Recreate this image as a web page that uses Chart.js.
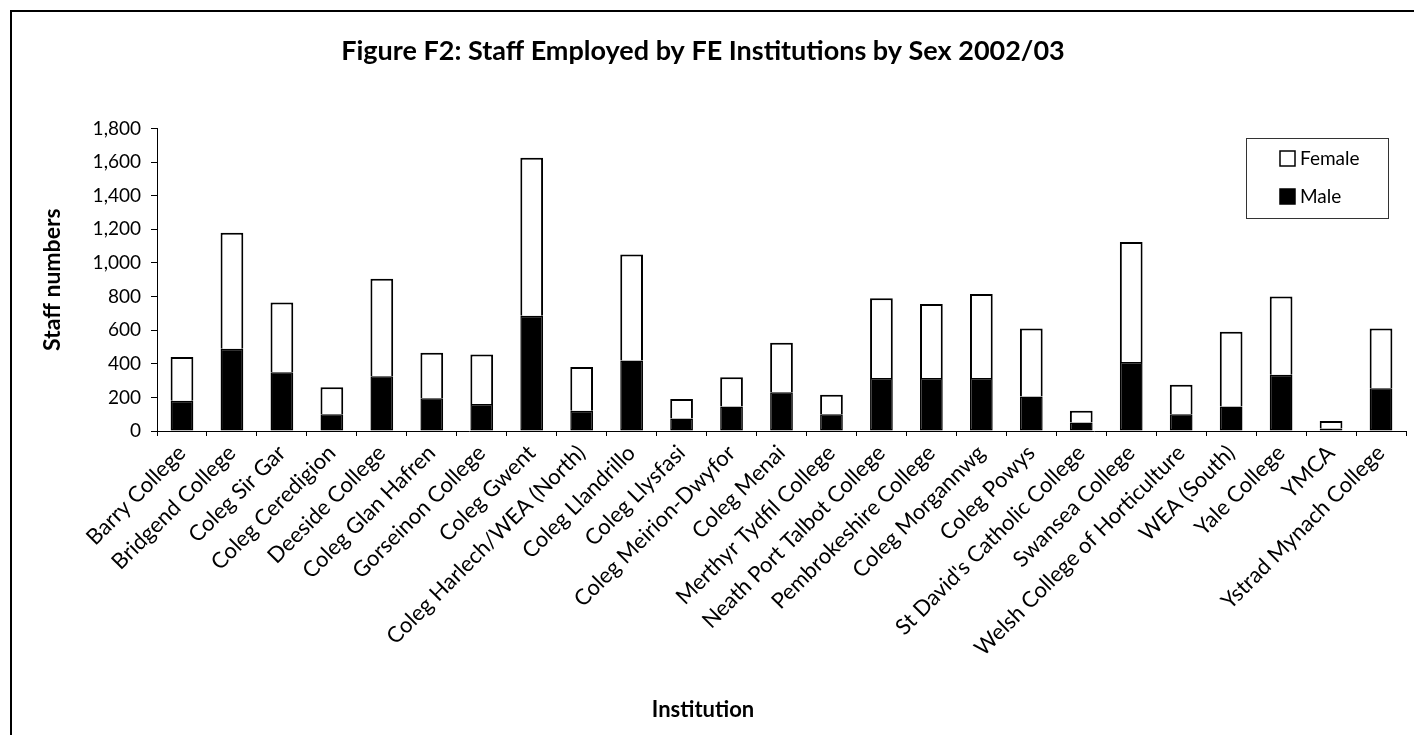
<!DOCTYPE html>
<html>
<head>
<meta charset="utf-8">
<title>Figure F2</title>
<script src="https://cdn.jsdelivr.net/npm/chart.js@4/dist/chart.umd.min.js"></script>
<style>
  html, body { margin: 0; padding: 0; background: #fff; overflow: hidden; }
  canvas { display: block; }
</style>
</head>
<body>
<canvas id="myChart" width="1414" height="735"></canvas>
<script>
// Figure F2 - staff by institution and sex

const institutions = [
  "Barry College", "Bridgend College", "Coleg Sir Gar", "Coleg Ceredigion",
  "Deeside College", "Coleg Glan Hafren", "Gorseinon College", "Coleg Gwent",
  "Coleg Harlech/WEA (North)", "Coleg Llandrillo", "Coleg Llysfasi",
  "Coleg Meirion-Dwyfor", "Coleg Menai", "Merthyr Tydfil College",
  "Neath Port Talbot College", "Pembrokeshire College", "Coleg Morgannwg",
  "Coleg Powys", "St David's Catholic College", "Swansea College",
  "Welsh College of Horticulture", "WEA (South)", "Yale College", "YMCA",
  "Ystrad Mynach College"
];

const maleStaff = [180, 490, 350, 100, 325, 195, 160, 685, 120, 420, 75, 145, 230,
  100, 315, 315, 315, 205, 50, 410, 100, 145, 335, 15, 255];

const femaleStaff = [260, 690, 415, 160, 580, 270, 295, 940, 260, 630, 115, 175, 295,
  115, 475, 440, 500, 405, 70, 715, 175, 445, 465, 45, 355];

const yTicks = [0, 200, 400, 600, 800, 1000, 1200, 1400, 1600, 1800];

const FONT = "Lato, 'Open Sans', sans-serif";

// frame round the whole chart (only left and top are visible)
const framePlugin = {
  id: "frame",
  afterDraw(chart) {
    const ctx = chart.ctx;
    ctx.save();
    ctx.strokeStyle = "#000";
    ctx.lineWidth = 2;
    ctx.beginPath();
    ctx.moveTo(11, chart.height);
    ctx.lineTo(11, 11);
    ctx.lineTo(chart.width, 11);
    ctx.stroke();
    ctx.restore();
  }
};

// boxed legend inside the plot, Female above Male
const boxLegend = {
  id: "boxLegend",
  afterDraw(chart) {
    const ctx = chart.ctx;
    const x = 1246, y = 138, w = 142, h = 80;
    ctx.save();
    ctx.fillStyle = "#fff";
    ctx.fillRect(x, y, w, h);
    ctx.strokeStyle = "#333";
    ctx.lineWidth = 1;
    ctx.strokeRect(x + 0.5, y + 0.5, w, h);
    const sets = chart.data.datasets.slice().reverse();
    ctx.font = "19px " + FONT;
    ctx.textBaseline = "middle";
    sets.forEach((ds, i) => {
      const cy = y + 20 + i * 38;
      ctx.fillStyle = ds.backgroundColor;
      ctx.fillRect(x + 34, cy - 7, 15, 15);
      ctx.strokeStyle = "#000";
      ctx.lineWidth = 1.5;
      ctx.strokeRect(x + 34, cy - 7, 15, 15);
      ctx.fillStyle = "#000";
      ctx.fillText(ds.label, x + 54, cy + 1);
    });
    ctx.restore();
  }
};

const data = {
  labels: institutions,
  datasets: [
    {
      label: "Male",
      data: maleStaff,
      backgroundColor: "#000",
      borderColor: "#000",
      borderWidth: 1.5,
      borderSkipped: false,
    },
    {
      label: "Female",
      data: femaleStaff,
      backgroundColor: "#fff",
      borderColor: "#000",
      borderWidth: 2,
      borderSkipped: "start",
    },
  ],
};

const config = {
  type: "bar",
  data: data,
  plugins: [framePlugin, boxLegend],
  options: {
    responsive: false,
    animation: false,
    devicePixelRatio: 1,
    datasets: {
      bar: {
        categoryPercentage: 1,
        barPercentage: 0.455,
      },
    },
    layout: {
      padding: { left: 0, right: 8, top: 0, bottom: 0 },
    },
    plugins: {
      legend: { display: false },
      tooltip: { enabled: false },
      title: {
        display: true,
        text: "Figure F2: Staff Employed by FE Institutions by Sex 2002/03",
        color: "#000",
        font: { family: FONT, size: 27, weight: "bold" },
        padding: { top: 35, bottom: 61 },
      },
      // x axis name, centred on the whole figure like the original
      subtitle: {
        display: true,
        position: "bottom",
        text: "Institution",
        color: "#000",
        font: { family: FONT, size: 22, weight: "bold" },
        padding: { top: 0, bottom: 12 },
      },
    },
    scales: {
      x: {
        stacked: true,
        afterFit(scale) { scale.height = 304 - 38.4; },
        grid: {
          display: true,
          offset: true,
          drawOnChartArea: false,
          drawTicks: true,
          tickLength: 5,
          color: "#000",
        },
        border: { display: true, color: "#000", width: 1 },
        ticks: {
          autoSkip: false,
          minRotation: 45,
          maxRotation: 45,
          color: "#000",
          padding: 4,
          font: { family: FONT, size: 22 },
        },
      },
      y: {
        stacked: true,
        min: 0,
        max: 1800,
        afterFit(scale) { scale.width = 157; },
        afterBuildTicks(scale) {
          scale.ticks = yTicks.map((v) => ({ value: v }));
        },
        grid: {
          display: true,
          drawOnChartArea: false,
          drawTicks: true,
          tickLength: 6,
          color: "#000",
        },
        border: { display: true, color: "#000", width: 1 },
        ticks: {
          color: "#000",
          padding: 10,
          font: { family: FONT, size: 19 },
          callback: (v) => v.toLocaleString("en-GB"),
        },
        title: {
          display: true,
          text: "Staff numbers",
          color: "#000",
          font: { family: FONT, size: 23, weight: "bold" },
          padding: { top: 39 },
        },
      },
    },
  },
};

const context = document.getElementById("myChart").getContext("2d");
const chart = new Chart(context, config);
</script>
</body>
</html>
